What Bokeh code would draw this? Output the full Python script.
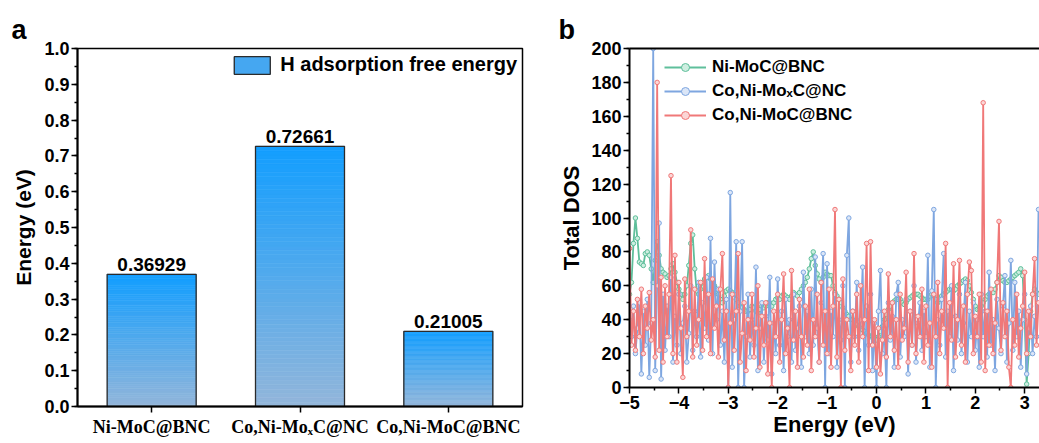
import numpy as np
from bokeh.plotting import figure
from bokeh.layouts import row, column
from bokeh.models import (Range1d, FactorRange, ColumnDataSource, Legend, LegendItem,
                          SingleIntervalTicker, FixedTicker, LinearAxis,
                          PrintfTickFormatter)
from bokeh.core.properties import value
from bokeh.embed import file_html
from bokeh.resources import INLINE

# ---------------- Panel a data ----------------
catalysts = ["Ni-MoC@BNC", "Co,Ni-Mo\u2093C@NC", "Co,Ni-MoC@BNC"]
h_ads_energy = [0.36929, 0.72661, 0.21005]

# ---------------- Panel b data ----------------
energy_start = -5.0
energy_step = 0.04
series_labels = ["Ni-MoC@BNC", "Co,Ni-Mo\u2093C@NC", "Co,Ni-MoC@BNC"]

dos_ni_moc_bnc = [
    55, 62, 85, 100, 88, 74, 73, 72, 79, 80, 78, 70, 62, 75, 86, 78, 70, 68, 67, 65, 66, 70, 73, 68, 62,
    58, 55, 52, 55, 60, 72, 85, 90, 70, 57, 55, 58, 62, 64, 65, 66, 64, 62, 60, 58, 55, 52, 50, 54, 57,
    58, 57, 56, 55, 52, 50, 48, 47, 46, 45, 45, 46, 48, 47, 45, 44, 46, 48, 47, 48, 50, 50, 48, 50, 52,
    53, 52, 54, 55, 54, 53, 52, 54, 56, 55, 54, 56, 58, 60, 62, 65, 70, 76, 80, 72, 67, 64, 62, 65, 68,
    67, 66, 66, 60, 56, 54, 52, 50, 47, 45, 43, 42, 40, 40, 38, 37, 36, 35, 34, 33, 32, 31, 30, 30, 29,
    28, 30, 33, 36, 40, 43, 46, 48, 50, 51, 52, 52, 52, 50, 49, 50, 52, 53, 54, 55, 55, 55, 54, 53, 52,
    52, 52, 54, 55, 54, 52, 50, 52, 54, 55, 56, 57, 58, 58, 57, 58, 60, 61, 62, 63, 64, 63, 60, 56, 52,
    48, 46, 46, 48, 50, 52, 54, 55, 56, 56, 58, 62, 66, 65, 63, 62, 62, 63, 64, 65, 66, 67, 68, 70, 66,
    40, 2, 20, 45, 55, 58, 56, 55,
]

dos_coni_moxc_nc = [
    40, 30, 48, 20, 35, 50, 8, 45, 25, 52, 6, 38, 200, 10, 60, 97, 5, 55, 22, 48, 30, 65, 15, 42, 25,
    55, 20, 38, 48, 15, 32, 60, 22, 45, 30, 62, 18, 50, 35, 65, 28, 88, 20, 74, 40, 58, 25, 45, 15, 52,
    0, 115, 12, 40, 86, 0, 45, 86, 0, 30, 55, 18, 40, 25, 71, 10, 35, 50, 15, 42, 28, 65, 8, 38, 20,
    64, 25, 45, 10, 52, 30, 40, 15, 55, 22, 35, 48, 12, 68, 30, 45, 20, 58, 25, 77, 35, 15, 50, 79, 0,
    73, 20, 45, 30, 55, 12, 40, 28, 60, 0, 78, 100, 15, 45, 30, 62, 22, 40, 71, 0, 48, 25, 55, 10, 38,
    0, 45, 69, 20, 35, 0, 50, 28, 42, 12, 55, 62, 18, 40, 30, 52, 8, 45, 25, 60, 15, 38, 50, 22, 45,
    30, 78, 12, 57, 105, 0, 40, 25, 52, 79, 18, 45, 30, 60, 10, 42, 28, 55, 20, 38, 62, 15, 45, 30, 50,
    22, 40, 12, 55, 30, 45, 18, 68, 25, 40, 10, 52, 35, 20, 48, 66, 15, 38, 75, 22, 62, 30, 45, 12, 40,
    55, 8, 35, 48, 20, 42, 30, 105,
]

dos_coni_moc_bnc = [
    82, 25, 45, 22, 52, 30, 58, 20, 48, 35, 56, 28, 40, 18, 180, 22, 65, 15, 60, 30, 55, 125, 20, 78, 15,
    62, 35, 6, 64, 30, 45, 93, 18, 58, 25, 40, 62, 22, 76, 30, 55, 20, 64, 35, 48, 18, 58, 79, 28, 45,
    0, 38, 55, 22, 45, 79, 15, 32, 50, 10, 40, 28, 55, 18, 35, 60, 12, 42, 25, 50, 8, 38, 0, 45, 30,
    55, 15, 40, 67, 20, 35, 0, 69, 28, 45, 12, 52, 30, 18, 48, 25, 58, 10, 40, 30, 55, 15, 62, 25, 45,
    20, 58, 12, 48, 105, 18, 52, 0, 64, 22, 40, 30, 10, 45, 25, 55, 15, 60, 30, 40, 85, 10, 86, 25, 40,
    12, 35, 8, 28, 45, 18, 67, 30, 50, 22, 40, 12, 55, 28, 35, 68, 15, 45, 25, 79, 20, 42, 30, 58, 15,
    48, 25, 38, 12, 55, 30, 62, 20, 45, 35, 85, 0, 50, 28, 73, 18, 40, 75, 25, 48, 15, 55, 74, 69, 20,
    42, 30, 55, 15, 168, 10, 45, 25, 58, 20, 38, 62, 98, 22, 50, 30, 45, 12, 0, 40, 25, 55, 18, 35, 48,
    68, 20, 45, 30, 55, 76, 25, 50,
]

dos_x_ticks = [-5, -4, -3, -2, -1, 0, 1, 2, 3]

SANS = "Liberation Sans"
SERIF = "Liberation Serif"


def style_axis(ax, label_size="18px", font=SANS):
    ax.axis_line_width = 2
    ax.axis_line_color = "black"
    ax.major_tick_line_width = 1.5
    ax.major_tick_line_color = "black"
    ax.major_tick_out = 6
    ax.major_tick_in = 0
    ax.minor_tick_line_width = 1.5
    ax.minor_tick_line_color = "black"
    ax.minor_tick_out = 3
    ax.minor_tick_in = 0
    ax.major_label_text_font = font
    ax.major_label_text_font_style = "bold"
    ax.major_label_text_font_size = label_size
    ax.major_label_text_color = "black"
    ax.major_label_standoff = 2
    ax.axis_label_text_font = SANS
    ax.axis_label_text_font_style = "bold"
    ax.axis_label_text_color = "black"


def style_title(p, txt, offset):
    p.title.text = txt
    p.title.align = "left"
    p.title.offset = offset
    p.title.text_font = SANS
    p.title.text_font_style = "bold"
    p.title.text_font_size = "27px"
    p.title.text_color = "black"
    p.title.standoff = 8


# ================= Panel a =================
pa = figure(width=553, height=443, x_range=FactorRange(factors=catalysts),
            y_range=Range1d(0, 1), output_backend="svg", toolbar_location=None,
            min_border_left=77, min_border_right=31, min_border_top=48, min_border_bottom=37)
pa.xgrid.visible = False
pa.ygrid.visible = False
pa.outline_line_color = "black"
pa.outline_line_width = 1.5
pa.outline_line_alpha = 1.0
style_title(pa, "a", -66)

# gradient bars built as thin horizontal slices of each bar
n_strips = 60
top_rgb = (0x12, 0x9E, 0xFF)
bot_rgb = (0x93, 0xB6, 0xDA)
k_order = list(range(36, n_strips)) + list(range(0, 36))
sx, sb, st, sc = [], [], [], []
for k in k_order:
    t = (k + 0.5) / n_strips
    c = tuple(int(round(b + (tp - b) * t)) for b, tp in zip(bot_rgb, top_rgb))
    for cat, v in zip(catalysts, h_ads_energy):
        sx.append(cat)
        sb.append(v * k / n_strips)
        st.append(v * (k + 1) / n_strips)
        sc.append("#%02x%02x%02x" % c)
strip_src = ColumnDataSource(dict(x=sx, bottom=sb, top=st, color=sc))
strip_r = pa.vbar(x="x", bottom="bottom", top="top", width=0.6, fill_color="color",
                  line_color="color", line_width=0.6, source=strip_src)
outline_r = pa.vbar(x=catalysts, top=h_ads_energy, width=0.6, fill_color=None,
                    line_color="#2b2b2b", line_width=1.3)
pa.text(x=catalysts, y=h_ads_energy, text=[f"{v:.5f}" for v in h_ads_energy],
        text_align="center", text_baseline="bottom", y_offset=-3,
        text_font=value(SANS), text_font_style="bold", text_font_size="19px",
        text_color="black")

lega = Legend(items=[LegendItem(label="H adsorption free energy",
                                renderers=[strip_r, outline_r], index=0)],
              location="top_right", margin=5, padding=6, glyph_width=45, glyph_height=22,
              label_text_font=SANS, label_text_font_style="bold", label_text_font_size="20px",
              label_text_color="black", label_standoff=6,
              border_line_color=None, background_fill_alpha=0)
pa.add_layout(lega)

pa.yaxis.ticker = SingleIntervalTicker(interval=0.1, num_minor_ticks=2)
pa.yaxis.formatter = PrintfTickFormatter(format="%.1f")
pa.yaxis.axis_label = "Energy (eV)"
style_axis(pa.yaxis[0])
pa.yaxis.axis_label_text_font_size = "21px"
pa.yaxis.axis_label_standoff = 6
style_axis(pa.xaxis[0], label_size="18px", font=SERIF)
pa.xaxis.major_label_standoff = 4

# ================= Panel b =================
energy = [round(energy_start + energy_step * i, 2) for i in range(len(dos_coni_moc_bnc))]

pb = figure(width=486, height=443, x_range=Range1d(-5, 3.3), y_range=Range1d(0, 200),
            output_backend="svg", toolbar_location=None,
            min_border_left=76, min_border_right=0, min_border_top=48, min_border_bottom=56)
pb.xgrid.visible = False
pb.ygrid.visible = False
pb.outline_line_color = None
style_title(pb, "b", -71)

colors = ["#5fbf9b", "#7ea6e0", "#f07878"]
fills = ["#cdeee0", "#dbe6f7", "#fbd6d6"]
series = [dos_ni_moc_bnc, dos_coni_moxc_nc, dos_coni_moc_bnc]
items = []
for vals, col, fc, lab in zip(series, colors, fills, series_labels):
    r1 = pb.line(energy, vals, line_color=col, line_width=1.8)
    r2 = pb.scatter(energy, vals, marker="circle", size=4.5, line_color=col,
                    fill_color=fc, line_width=1)
    items.append(LegendItem(label=lab, renderers=[r1, r2]))

legb = Legend(items=items, location=(35, 262), margin=0, padding=0, spacing=4,
              glyph_width=42, glyph_height=20, label_height=20, label_standoff=6,
              label_text_font=SANS, label_text_font_style="bold", label_text_font_size="17px",
              label_text_color="black", border_line_color=None, background_fill_alpha=0)
pb.add_layout(legb)

xb = pb.xaxis[0]
xb.ticker = FixedTicker(ticks=dos_x_ticks,
                        minor_ticks=[t + 0.5 for t in dos_x_ticks[:-1]] + [3.5])
xb.major_label_overrides = {t: (f"\u2212{abs(t)}" if t < 0 else f"{t}") for t in dos_x_ticks}
xb.axis_label = "Energy (eV)"
style_axis(xb)
xb.axis_label_text_font_size = "22px"
xb.axis_label_standoff = 0

yb = pb.yaxis[0]
yb.ticker = SingleIntervalTicker(interval=20, num_minor_ticks=2)
yb.axis_label = "Total DOS"
style_axis(yb)
yb.axis_label_text_font_size = "22px"
yb.axis_label_standoff = 4

top_axis = LinearAxis(ticker=FixedTicker(ticks=[], minor_ticks=[]),
                      major_tick_line_color=None, minor_tick_line_color=None,
                      major_label_standoff=0, axis_line_width=2, axis_line_color="black")
pb.add_layout(top_axis, "above")

layout = row(column(pa), column(pb))
open("out.html", "w").write(file_html(layout, INLINE))
